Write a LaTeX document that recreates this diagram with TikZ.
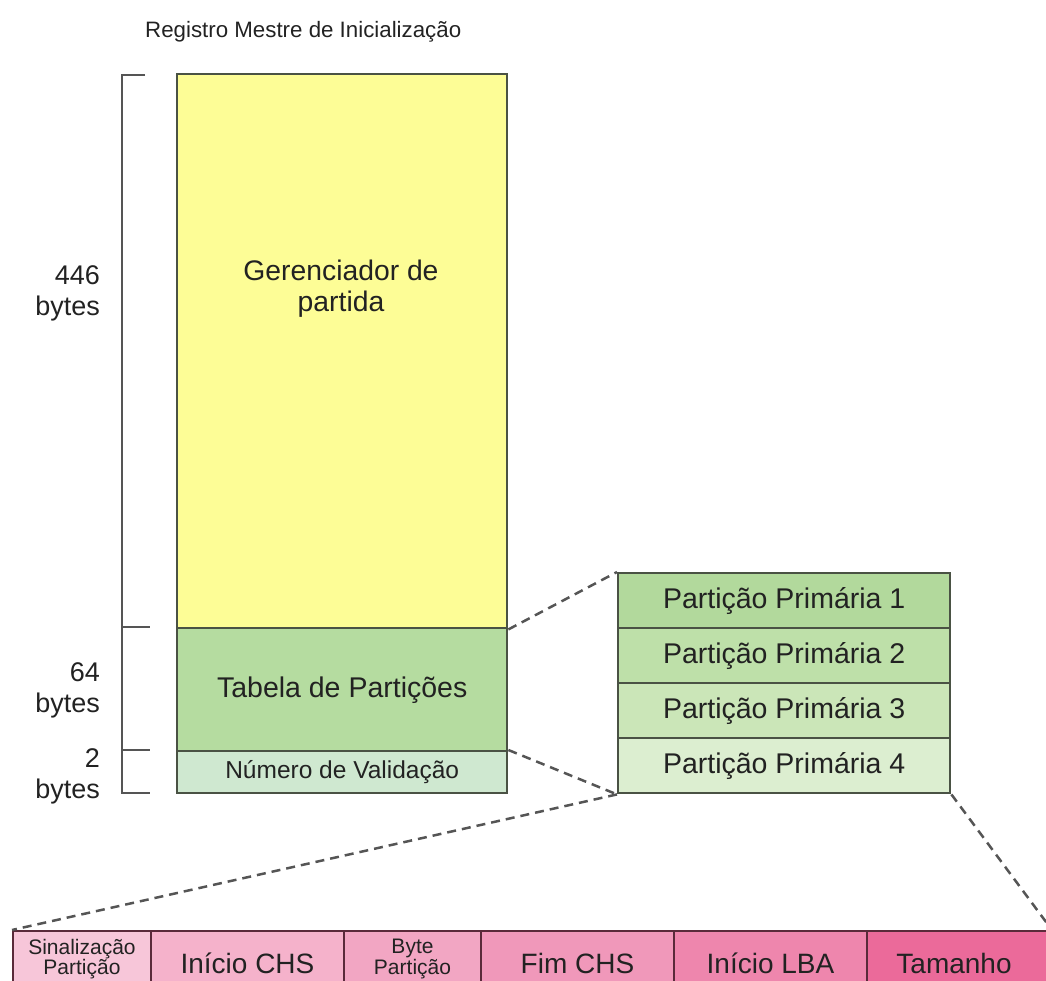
\documentclass[tikz,border=0pt]{standalone}
\usepackage{fontspec}
\setmainfont{Liberation Sans}
\definecolor{txt}{HTML}{222222}
\definecolor{bordc}{HTML}{4A5244}
\definecolor{pinkbord}{HTML}{5A2A3A}
\definecolor{dashc}{HTML}{555555}
\definecolor{yel}{HTML}{FDFD96}
\definecolor{tabg}{HTML}{B5DCA0}
\definecolor{valg}{HTML}{CFE8D0}
\definecolor{pa}{HTML}{B2D99C}
\definecolor{pb}{HTML}{BEE0A9}
\definecolor{pc}{HTML}{CBE6B8}
\definecolor{pd}{HTML}{DCEED0}
\definecolor{ka}{HTML}{F7C6D9}
\definecolor{kb}{HTML}{F5B2CB}
\definecolor{kc}{HTML}{F2A6C3}
\definecolor{kd}{HTML}{F098BA}
\definecolor{ke}{HTML}{EE86AD}
\definecolor{kf}{HTML}{EB6A9A}
\begin{document}
\begin{tikzpicture}[x=1pt,y=-1pt,
  mbox/.style={draw=bordc, line width=2.4pt, inner sep=0pt, anchor=north west, text=txt, align=center},
  pbox/.style={mbox, minimum width=332pt, minimum height=55pt, font=\fontsize{28.5}{32}\selectfont},
  cell/.style={draw=pinkbord, line width=2pt, inner sep=0pt, anchor=north west, text=txt, align=center, minimum height=64pt},
  bigt/.style={font=\fontsize{28}{32}\selectfont},
  smallt/.style={font=\fontsize{21}{20.5}\selectfont},
  sidelab/.style={anchor=east, align=right, text=txt, inner sep=0pt, font=\fontsize{27}{31}\selectfont},
  dashline/.style={draw=dashc, line width=2.5pt, dash pattern=on 9pt off 6pt},
  brk/.style={draw=dashc, line width=2.5pt}
]
\useasboundingbox (0,0) rectangle (1046,980);
\clip (0,0) rectangle (1046,980);

% title
\node[anchor=base west, inner sep=0pt, text=txt, font=\fontsize{22.3}{26}\selectfont] (title) at (145,37) {Registro Mestre de Inicialização};

% main record
\node[mbox, fill=yel, minimum width=330pt, minimum height=554pt] (gen) at (176,73) {};
\node[align=center, text=txt, inner sep=0pt, font=\fontsize{28.3}{31}\selectfont] (genlab) at (341,289) {Gerenciador de\\partida};
\node[mbox, fill=tabg, minimum width=330pt, minimum height=123pt, font=\fontsize{28.5}{32}\selectfont] (tab) at (176,627) {Tabela de Partições};
\node[mbox, fill=valg, minimum width=330pt, minimum height=42pt, font=\fontsize{24.5}{28}\selectfont] (val) at (176,750) {Número de Validação};

% bracket
\draw[brk] (145,75) -- (122,75) -- (122,793) -- (150,793);
\draw[brk] (122,627) -- (150,627);
\draw[brk] (122,750) -- (150,750);

% side labels
\node[sidelab] (l446) at (100,293) {446\\bytes};
\node[sidelab] (l64) at (100,690) {64\\bytes};
\node[sidelab] (l2) at (100,776) {2\\bytes};

% partitions
\node[pbox, fill=pa] (p1) at (617,572) {Partição Primária 1};
\node[pbox, fill=pb] (p2) at (617,627) {Partição Primária 2};
\node[pbox, fill=pc] (p3) at (617,682) {Partição Primária 3};
\node[pbox, fill=pd] (p4) at (617,737) {Partição Primária 4};

% entry fields
\node[cell, fill=ka, minimum width=138pt, minimum height=56pt, smallt] (c1) at (12,930) {Sinalização\\Partição};
\node[cell, fill=kb, minimum width=193pt, bigt] (c2) at (150,930) {Início CHS};
\node[cell, fill=kc, minimum width=137pt, minimum height=56pt, smallt] (c3) at (343,930) {Byte\\Partição};
\node[cell, fill=kd, minimum width=193pt, bigt] (c4) at (480,930) {Fim CHS};
\node[cell, fill=ke, minimum width=193pt, bigt] (c5) at (673,930) {Início LBA};
\node[cell, fill=kf, minimum width=184pt, bigt] (c6) at (866,930) {\hspace*{-10pt}Tamanho};
% continue short cells below the picture edge
\fill[ka] ([xshift=1pt]c1.south west) rectangle ([xshift=-1pt,yshift=-12pt]c1.south east);
\fill[kc] ([xshift=1pt]c3.south west) rectangle ([xshift=-1pt,yshift=-12pt]c3.south east);
\draw[pinkbord, line width=2pt] (c1.south west) -- ++(0,12) (c1.south east) -- ++(0,12) (c3.south east) -- ++(0,12);

% dashed connectors
\draw[dashline] (gen.south east) -- (p1.north west);
\draw[dashline] (val.north east) -- (p4.south west);
\draw[dashline] (p4.south west) -- (c1.north west);
\draw[dashline] (p4.south east) -- (c6.north east);
\end{tikzpicture}
\end{document}
